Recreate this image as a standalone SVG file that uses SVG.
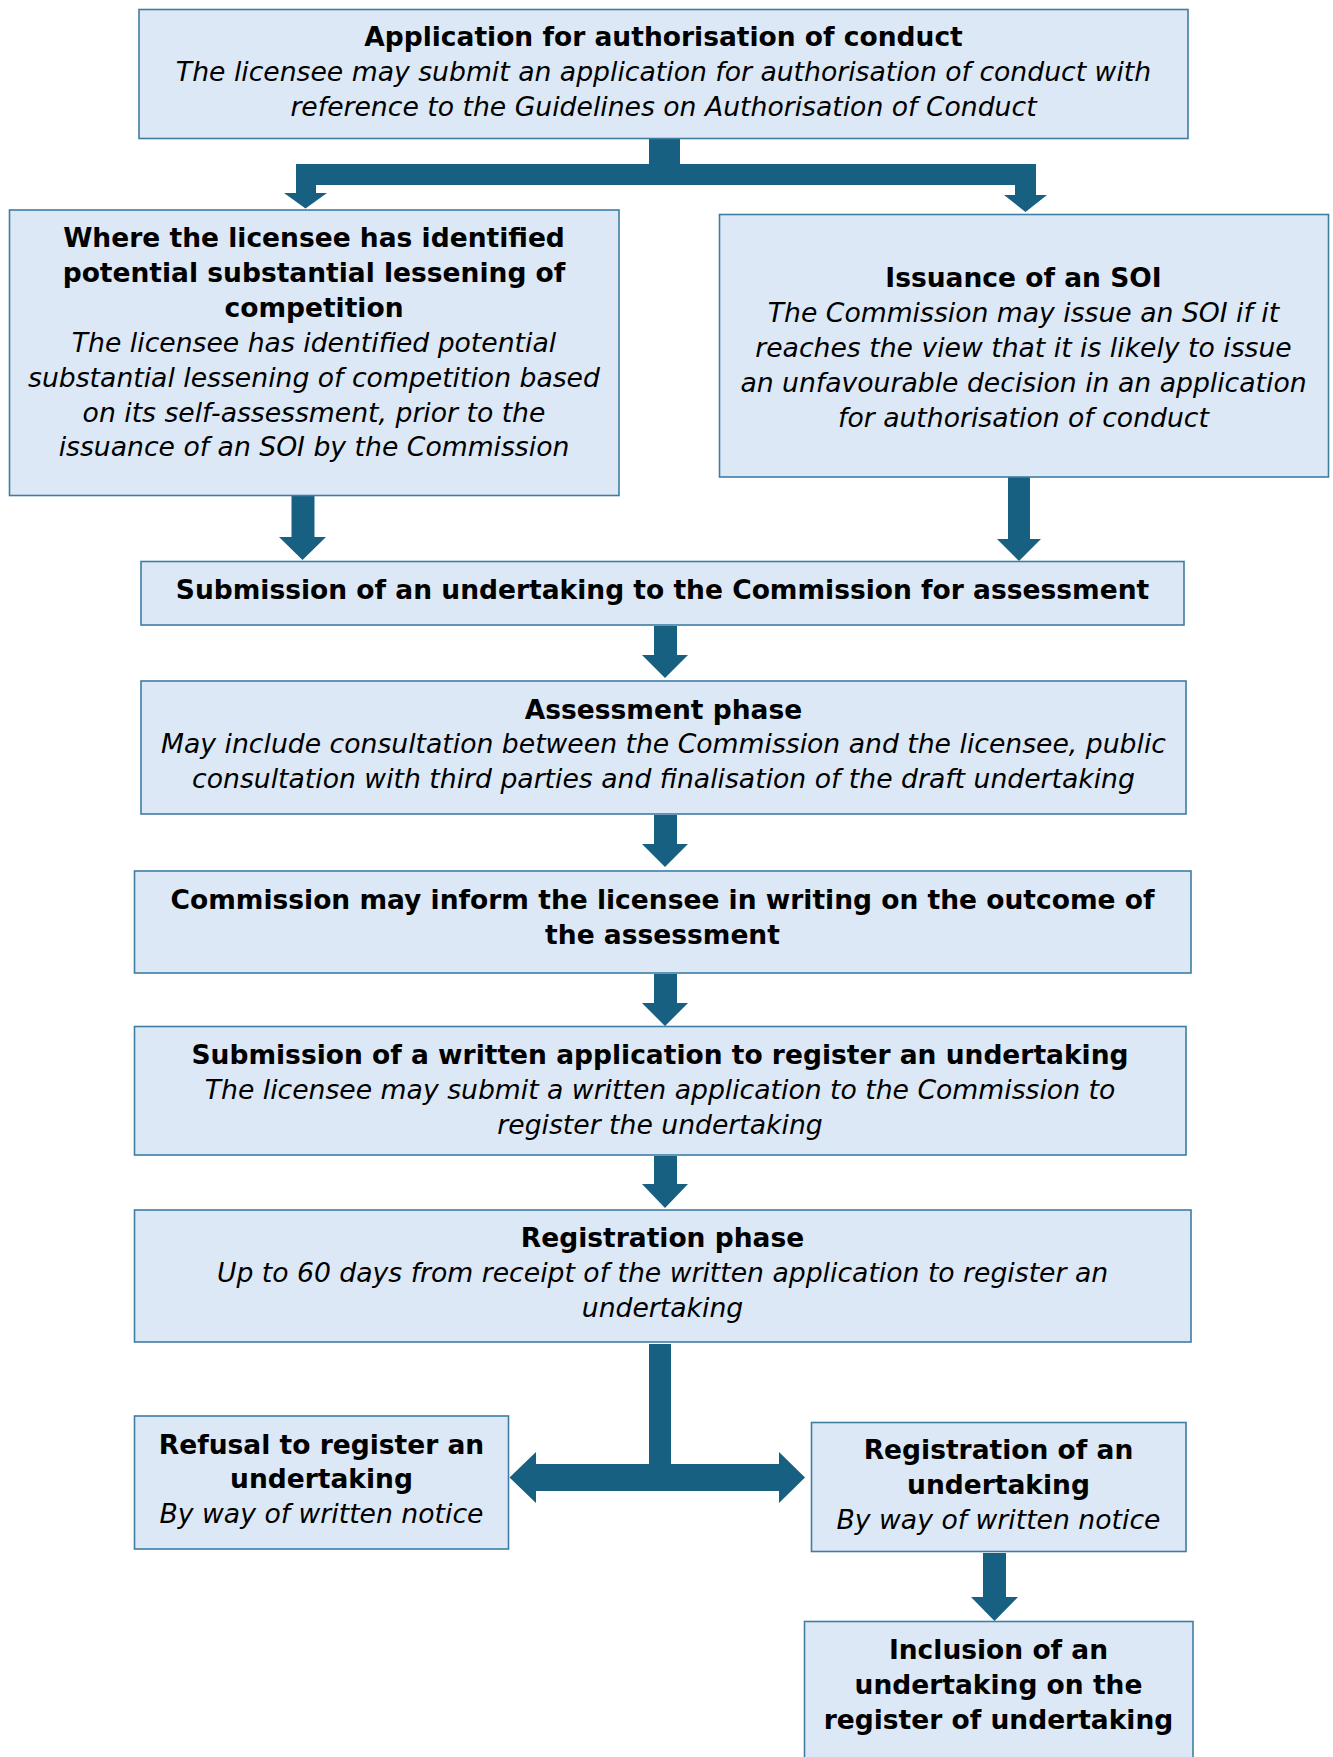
<svg xmlns="http://www.w3.org/2000/svg" width="1333" height="1757" viewBox="0 0 1333 1757">
<style>
.box{fill:#DCE8F5;stroke:#3F7DA3;stroke-width:1.6}
.arrow{fill:#176082;stroke:none}
text{font-family:"DejaVu Sans",Verdana,"Liberation Sans",sans-serif;font-size:26.5px;fill:#000;text-anchor:middle}
.b{font-weight:bold}
.i{font-style:italic;font-size:26.65px}
</style>
<rect width="1333" height="1757" fill="#FFFFFF"/>
<g id="connectors">
<path class="arrow" d="M649,137 H680 V164 H1036 V195 H1047 L1025.5,212 L1004,195 H1015 V185 H316 V193 H327 L305.5,208.5 L284,193 H296 V164 H649 Z"/>
<path class="arrow" d="M291.5,496 H314.5 V537 H326 L302.5,560 L279,537 H291.5 Z"/>
<path class="arrow" d="M1008,477 H1030 V539 H1041 L1019,561 L997,539 H1008 Z"/>
<path class="arrow" d="M654,626 H677 V655 H688 L665,678 L642,655 H654 Z"/>
<path class="arrow" d="M654,815 H677 V844 H688 L665,867 L642,844 H654 Z"/>
<path class="arrow" d="M654,974 H677 V1003 H688 L665,1026 L642,1003 H654 Z"/>
<path class="arrow" d="M654,1156 H677 V1184 H688 L665,1208 L642,1184 H654 Z"/>
<path class="arrow" d="M649,1344 H671 V1464 H779 V1452 L805,1477.5 L779,1503 V1491 H536 V1503 L509.5,1477.5 L536,1452 V1464 H649 Z"/>
<path class="arrow" d="M983,1553 H1006 V1597 H1018 L994.5,1621 L971,1597 H983 Z"/>
</g>
<g id="n1">
<rect class="box" x="139" y="9.5" width="1049" height="129"/>
<text x="663.5" y="45.5" class="b">Application for authorisation of conduct</text>
<text x="663.5" y="80.5" class="i">The licensee may submit an application for authorisation of conduct with</text>
<text x="663.5" y="115.5" class="i">reference to the Guidelines on Authorisation of Conduct</text>
</g>
<g id="n2">
<rect class="box" x="9.5" y="210" width="609.5" height="285.5"/>
<text x="314" y="247" class="b">Where the licensee has identified</text>
<text x="314" y="281.9" class="b">potential substantial lessening of</text>
<text x="314" y="316.8" class="b">competition</text>
<text x="314" y="351.7" class="i">The licensee has identified potential</text>
<text x="314" y="386.6" class="i">substantial lessening of competition based</text>
<text x="314" y="421.5" class="i">on its self-assessment, prior to the</text>
<text x="314" y="456.4" class="i">issuance of an SOI by the Commission</text>
</g>
<g id="n3">
<rect class="box" x="719.5" y="214.5" width="609" height="262.5"/>
<text x="1023.5" y="287" class="b">Issuance of an SOI</text>
<text x="1023.5" y="321.9" class="i">The Commission may issue an SOI if it</text>
<text x="1023.5" y="356.8" class="i">reaches the view that it is likely to issue</text>
<text x="1023.5" y="391.7" class="i">an unfavourable decision in an application</text>
<text x="1023.5" y="426.6" class="i">for authorisation of conduct</text>
</g>
<g id="n4">
<rect class="box" x="141" y="561.5" width="1043" height="63.5"/>
<text x="662.5" y="598.5" class="b">Submission of an undertaking to the Commission for assessment</text>
</g>
<g id="n5">
<rect class="box" x="141" y="681" width="1045" height="133"/>
<text x="663.5" y="718.5" class="b">Assessment phase</text>
<text x="663.5" y="753.4" class="i">May include consultation between the Commission and the licensee, public</text>
<text x="663.5" y="788.3" class="i">consultation with third parties and finalisation of the draft undertaking</text>
</g>
<g id="n6">
<rect class="box" x="134.5" y="871" width="1056.5" height="102"/>
<text x="662.5" y="909" class="b">Commission may inform the licensee in writing on the outcome of</text>
<text x="662.5" y="944" class="b">the assessment</text>
</g>
<g id="n7">
<rect class="box" x="134.5" y="1026.5" width="1051.5" height="128.5"/>
<text x="660" y="1064" class="b">Submission of a written application to register an undertaking</text>
<text x="660" y="1098.9" class="i">The licensee may submit a written application to the Commission to</text>
<text x="660" y="1133.8" class="i">register the undertaking</text>
</g>
<g id="n8">
<rect class="box" x="134.5" y="1210" width="1056.5" height="132"/>
<text x="662.5" y="1247" class="b">Registration phase</text>
<text x="662.5" y="1281.9" class="i">Up to 60 days from receipt of the written application to register an</text>
<text x="662.5" y="1316.8" class="i">undertaking</text>
</g>
<g id="n9">
<rect class="box" x="134.5" y="1416" width="374" height="133"/>
<text x="321.5" y="1453.5" class="b">Refusal to register an</text>
<text x="321.5" y="1488.4" class="b">undertaking</text>
<text x="321.5" y="1523.3" class="i">By way of written notice</text>
</g>
<g id="n10">
<rect class="box" x="811.5" y="1422.5" width="374.5" height="129"/>
<text x="998.5" y="1459" class="b">Registration of an</text>
<text x="998.5" y="1494" class="b">undertaking</text>
<text x="998.5" y="1529" class="i">By way of written notice</text>
</g>
<g id="n11">
<rect class="box" x="804.5" y="1621.5" width="388.5" height="145"/>
<text x="998.5" y="1658.5" class="b">Inclusion of an</text>
<text x="998.5" y="1693.5" class="b">undertaking on the</text>
<text x="998.5" y="1728.5" class="b">register of undertaking</text>
</g>
</svg>
